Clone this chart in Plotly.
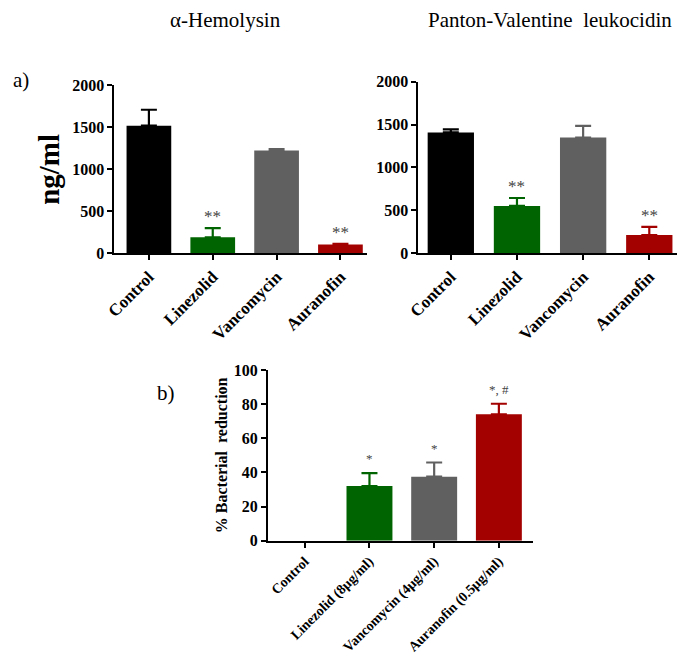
import plotly.graph_objects as go

# ---------------- data ----------------
cats_a = ["Control", "Linezolid", "Vancomycin", "Auranofin"]
hla_vals = [1520, 190, 1225, 103]
hla_errs = [190, 110, 15, 8]
hla_sig = ["", "**", "", "**"]

pvl_vals = [1408, 551, 1348, 213]
pvl_errs = [35, 93, 135, 94]
pvl_sig = ["", "**", "", "**"]

cats_b = ["Control", "Linezolid (8µg/ml)", "Vancomycin (4µg/ml)", "Auranofin (0.5µg/ml)"]
red_vals = [0, 32, 37.5, 74]
red_errs = [0, 7.6, 8.3, 6.2]
red_sig = ["", "*", "*", "*, #"]

colors = ["#000000", "#006400", "#606060", "#a30000"]

yticks_a = [0, 500, 1000, 1500, 2000]
yticks_b = [0, 20, 40, 60, 80, 100]

# page is 685x664; body has 8px margin, so the figure is offset by 8px
OFF = 8
W, H = 685 - OFF, 664 - 2 * OFF
FONT = "Liberation Serif"


def fx(p):
    return min(1.0, (p - OFF) / W)


def fy(p):
    return 1 - (p - OFF) / H


fig = go.Figure()

panels = [
    dict(x="x", y="y", vals=hla_vals, errs=hla_errs, sig=hla_sig, width=0.7, sigsize=17, shift=0),
    dict(x="x2", y="y2", vals=pvl_vals, errs=pvl_errs, sig=pvl_sig, width=0.7, sigsize=17, shift=0),
    dict(x="x3", y="y3", vals=red_vals, errs=red_errs, sig=red_sig, width=0.71, sigsize=13, shift=5),
]

for p in panels:
    for i, (v, e, c) in enumerate(zip(p["vals"], p["errs"], colors)):
        fig.add_trace(go.Bar(
            x=[i], y=[v], width=p["width"], marker=dict(color=c, line=dict(width=0)),
            error_y=dict(type="data", array=[e], arrayminus=[0], symmetric=False,
                         color=c, thickness=2.2, width=8, visible=e > 0),
            xaxis=p["x"], yaxis=p["y"], showlegend=False, hoverinfo="skip",
        ))
        if p["sig"][i]:
            fig.add_annotation(
                x=i, y=v + e, xref=p["x"], yref=p["y"], text=p["sig"][i],
                showarrow=False, xanchor="center", yanchor="bottom", yshift=p["shift"],
                font=dict(family=FONT, size=p["sigsize"], color="#444444"),
            )

axis_common = dict(
    showline=True, linecolor="black", linewidth=2, ticks="outside",
    ticklen=5, tickwidth=2, tickcolor="black", showgrid=False, zeroline=False,
    tickfont=dict(family=FONT, size=16, color="black", weight="bold"),
)
xfont_a = dict(family=FONT, size=17, color="black", weight="bold")
xfont_b = dict(family=FONT, size=14, color="black", weight="bold")

fig.update_layout(
    width=W, height=H, margin=dict(l=0, r=0, t=0, b=0),
    paper_bgcolor="white", plot_bgcolor="white", barmode="overlay",
    xaxis=dict(domain=[fx(105), fx(362)], range=[-0.54, 3.42], tickvals=list(range(4)),
               ticktext=cats_a, tickangle=-45, anchor="y", **{**axis_common, "tickfont": xfont_a}),
    yaxis=dict(domain=[fy(254), fy(80)], range=[0, 2000], tickvals=yticks_a, anchor="x",
               title=dict(text="ng/ml", standoff=4,
                          font=dict(family=FONT, size=29, color="black", weight="bold")),
               **axis_common),
    xaxis2=dict(domain=[fx(414), fx(683)], range=[-0.49, 3.51], tickvals=list(range(4)),
                ticktext=cats_a, tickangle=-45, anchor="y2", **{**axis_common, "tickfont": xfont_a}),
    yaxis2=dict(domain=[fy(254), fy(76)], range=[0, 2000], tickvals=yticks_a, anchor="x2",
                **axis_common),
    xaxis3=dict(domain=[fx(261), fx(530)], range=[-0.57, 3.52], tickvals=list(range(4)),
                ticktext=cats_b, tickangle=-45, anchor="y3", **{**axis_common, "tickfont": xfont_b}),
    yaxis3=dict(domain=[fy(552), fy(375)], range=[0, 100], tickvals=yticks_b, anchor="x3",
                title=dict(text="% Bacterial  reduction", standoff=2,
                           font=dict(family=FONT, size=16, color="black", weight="bold")),
                **axis_common),
)

# titles and panel labels
fig.add_annotation(x=fx(218), y=fy(12), xref="paper", yref="paper", text="α-Hemolysin",
                   xanchor="center", yanchor="middle",
                   showarrow=False, font=dict(family=FONT, size=21, color="black"))
fig.add_annotation(x=fx(548), y=fy(12), xref="paper", yref="paper", text="Panton-Valentine  leukocidin",
                   xanchor="center", yanchor="middle",
                   showarrow=False, font=dict(family=FONT, size=21, color="black"))
fig.add_annotation(x=fx(10), y=fy(74), xref="paper", yref="paper", text="a)",
                   xanchor="center", yanchor="middle",
                   showarrow=False, font=dict(family=FONT, size=21, color="black"))
fig.add_annotation(x=fx(157), y=fy(399), xref="paper", yref="paper", text="b)",
                   xanchor="center", yanchor="middle",
                   showarrow=False, font=dict(family=FONT, size=21, color="black"))

fig.write_html("out.html")
